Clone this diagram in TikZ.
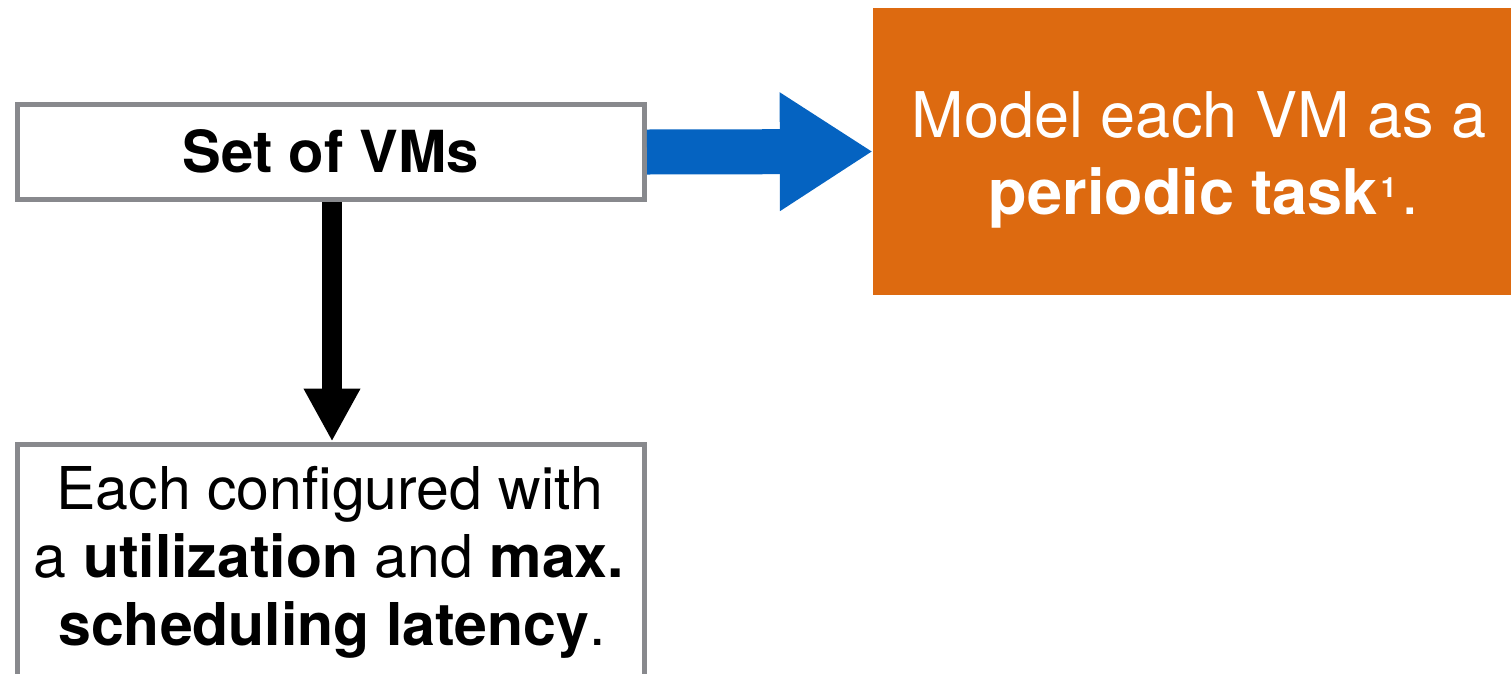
\documentclass[tikz,border=0pt]{standalone}
\usepackage{fontspec}
\setmainfont{TeX Gyre Heros}
\usetikzlibrary{arrows.meta}
\definecolor{vmorange}{HTML}{DD6A10}
\definecolor{vmblue}{HTML}{0563C1}
\definecolor{vmgray}{HTML}{88898D}
\begin{document}
\begin{tikzpicture}[x=1pt,y=-1pt,
  graybox/.style={draw=vmgray, line width=5pt, fill=white, inner sep=0pt},
  orangebox/.style={fill=vmorange, draw=none, inner sep=0pt},
  bigtxt/.style={anchor=base, inner sep=0pt, font=\fontsize{59}{68}\selectfont},
  whitetxt/.style={anchor=base, inner sep=0pt, text=white, font=\fontsize{63}{77}\selectfont},
  bluearrow/.style={draw=vmblue, line width=45pt, -{Triangle[width=112pt,length=93pt]}},
  blackarrow/.style={draw=black, line width=20pt, -{Triangle[width=53pt,length=53pt]}}]
\useasboundingbox (0,0) rectangle (1511,673);
\clip (0,0) rectangle (1511,673);
% boxes
\node[graybox, minimum width=627pt, minimum height=95pt] (vms) at (331,152) {};
\node[bigtxt, font=\fontsize{58}{68}\selectfont\bfseries] (vmstxt) at (331,172) {Set of VMs};
\node[orangebox, minimum width=638pt, minimum height=287pt] (model) at (1192,151.5) {};
\node[whitetxt] (m1) at (1199,137) {Model each VM as a};
\node[whitetxt] (m2) at (1204,214) {\textbf{periodic task}\kern3pt\raisebox{17pt}{\fontsize{28}{28}\selectfont\bfseries 1}\kern5pt.};
\node[graybox, minimum width=627pt, minimum height=300pt, anchor=north] (cfg) at (331,441.5) {};
\node[bigtxt] (c1) at (330,509) {Each configured with};
\node[bigtxt] (c2) at (329,577) {a \textbf{utilization} and \textbf{max.}};
\node[bigtxt] (c3) at (332,645) {\textbf{scheduling latency}.};
% arrows
\draw[bluearrow] (vms.east) -- (model.west);
\draw[blackarrow] ([xshift=1pt]vms.south) -- ([xshift=1pt]cfg.north);
\end{tikzpicture}
\end{document}
